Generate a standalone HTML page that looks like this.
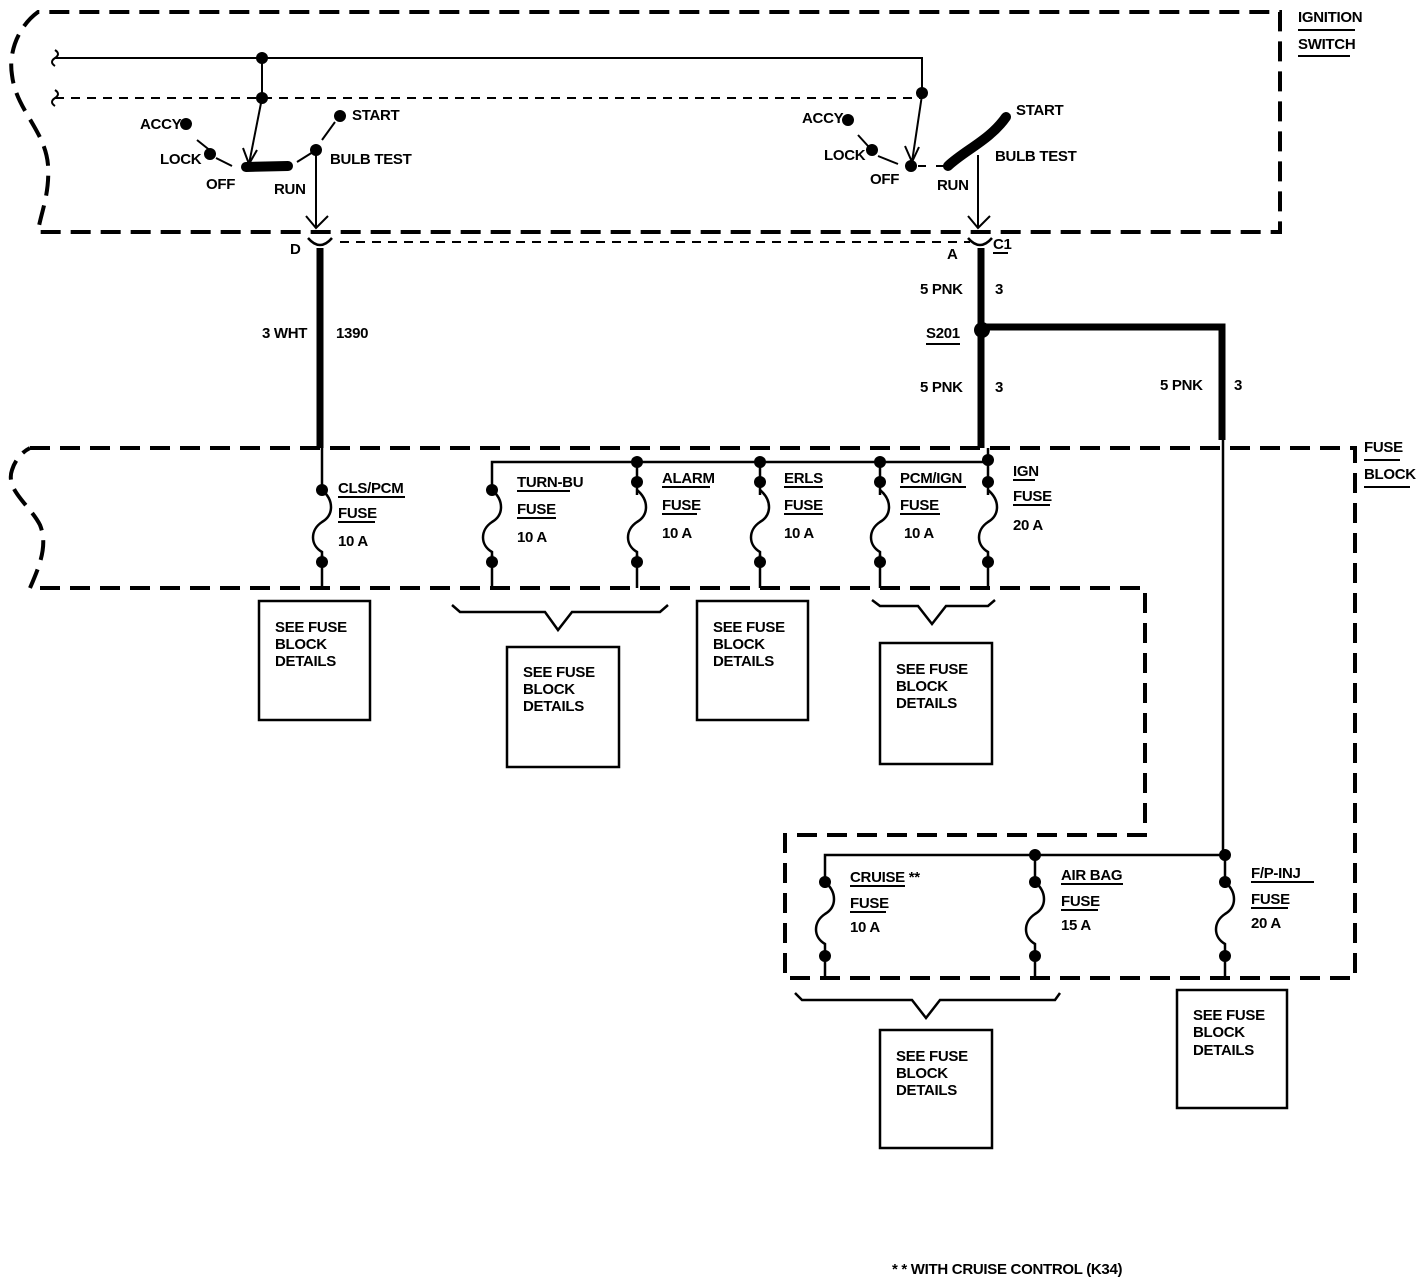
<!DOCTYPE html>
<html><head><meta charset="utf-8"><style>
html,body{margin:0;padding:0;background:#fff}
svg{display:block}
text{font-family:"Liberation Sans",sans-serif;font-size:15px;font-weight:bold;fill:#000;letter-spacing:-0.3px}
</style></head><body>
<svg width="1424" height="1284" viewBox="0 0 1424 1284" xmlns="http://www.w3.org/2000/svg">
<g fill="none" stroke="#000">
<!-- ignition switch box -->
<path d="M38,12 C20,25 8,50 12,75 C16,110 45,130 48,165 C50,195 40,215 38,232 L1280,232 L1280,12 Z" stroke-width="4" stroke-dasharray="20,10"/>
<!-- fuse block box -->
<path d="M30,448 L1355,448 L1355,978 L785,978 L785,835 L1145,835 L1145,588 L30,588 C40,565 48,545 40,525 C30,505 5,490 12,470 C15,460 22,452 30,448" stroke-width="4" stroke-dasharray="20,10"/>
<!-- top wires -->
<path d="M55,58 L922,58 L922,95" stroke-width="2"/>
<path d="M55,98 L922,98" stroke-width="2" stroke-dasharray="9,7"/>
<path d="M55,50 q6,4 0,8 q-6,4 0,8" stroke-width="2"/>
<path d="M55,90 q6,4 0,8 q-6,4 0,8" stroke-width="2"/>
<path d="M262,58 L262,98" stroke-width="2"/>
<!-- left switch -->
<path d="M262,98 L249,164" stroke-width="2"/>
<path d="M243,148 L249,164 L257,150" stroke-width="2"/>
<path d="M246,167 L288,166" stroke-width="10" stroke-linecap="round"/>
<path d="M197,140 L212,152 M216,158 L232,166" stroke-width="2"/>
<path d="M297,162 L313,152 M322,140 L335,122" stroke-width="2"/>
<path d="M316,150 L316,228" stroke-width="2"/>
<path d="M306,216 L316,228 L328,216" stroke-width="2"/>
<path d="M308,238 Q320,252 332,238" stroke-width="2.5"/>
<path d="M320,248 L320,448" stroke-width="7"/>
<path d="M340,242 L970,242" stroke-width="2" stroke-dasharray="9,7"/>
<!-- right switch -->
<path d="M922,95 L912,162" stroke-width="2"/>
<path d="M905,146 L912,162 L919,147" stroke-width="2"/>
<path d="M858,135 L868,146 M878,156 L898,164" stroke-width="2"/>
<path d="M918,166 L926,166 M936,166 L946,166" stroke-width="2"/>
<path d="M948,166 C965,150 990,140 1006,117" stroke-width="10" stroke-linecap="round"/>
<path d="M978,155 L978,228" stroke-width="2"/>
<path d="M968,216 L978,228 L990,216" stroke-width="2"/>
<path d="M968,238 Q980,252 992,238" stroke-width="2.5"/>
<path d="M981,248 L981,448" stroke-width="7"/>
<path d="M982,327 L1222,327 L1222,440" stroke-width="7"/>
<path d="M1223,440 L1223,855" stroke-width="2.5"/>
<!-- fuse bus top -->
<path d="M492,588 L492,462 L988,462" stroke-width="2.5"/>
<path d="M322,448 L322,588 M637,462 L637,588 M760,462 L760,588 M880,462 L880,588 M988,448 L988,588" stroke-width="2.5"/>
<path d="M825,978 L825,855 L1225,855 M1035,855 L1035,978 M1225,855 L1225,978" stroke-width="2.5"/>
</g>
<g fill="none" stroke="#fff" stroke-width="5">
<path d="M322,495 V555 M492,495 V555 M637,495 V555 M760,495 V555 M880,495 V555 M988,495 V555 M825,888 V950 M1035,888 V950 M1225,888 V950"/>
</g>
<g fill="none" stroke="#000" stroke-width="2.5">
<path id="fz" d="M322,490 C334,500 334,515 322,522 C310,530 310,545 322,552 L322,562"/>
<use href="#fz" x="170"/><use href="#fz" x="315"/><use href="#fz" x="438"/><use href="#fz" x="558"/><use href="#fz" x="666"/>
<use href="#fz" x="503" y="392"/><use href="#fz" x="713" y="392"/><use href="#fz" x="903" y="392"/>
</g>
<g fill="#000">
<circle cx="262" cy="58" r="6"/><circle cx="262" cy="98" r="6"/><circle cx="922" cy="93" r="6"/>
<circle cx="186" cy="124" r="6"/><circle cx="210" cy="154" r="6"/><circle cx="316" cy="150" r="6"/><circle cx="340" cy="116" r="6"/>
<circle cx="848" cy="120" r="6"/><circle cx="872" cy="150" r="6"/><circle cx="911" cy="166" r="6"/>
<circle cx="982" cy="330" r="8"/>
<circle cx="322" cy="490" r="6"/><circle cx="322" cy="562" r="6"/>
<circle cx="492" cy="490" r="6"/><circle cx="492" cy="562" r="6"/>
<circle cx="637" cy="462" r="6"/><circle cx="637" cy="482" r="6"/><circle cx="637" cy="562" r="6"/>
<circle cx="760" cy="462" r="6"/><circle cx="760" cy="482" r="6"/><circle cx="760" cy="562" r="6"/>
<circle cx="880" cy="462" r="6"/><circle cx="880" cy="482" r="6"/><circle cx="880" cy="562" r="6"/>
<circle cx="988" cy="460" r="6"/><circle cx="988" cy="482" r="6"/><circle cx="988" cy="562" r="6"/>
<circle cx="825" cy="882" r="6"/><circle cx="825" cy="956" r="6"/>
<circle cx="1035" cy="855" r="6"/><circle cx="1035" cy="882" r="6"/><circle cx="1035" cy="956" r="6"/>
<circle cx="1225" cy="855" r="6"/><circle cx="1225" cy="882" r="6"/><circle cx="1225" cy="956" r="6"/>
</g>
<g fill="none" stroke="#000" stroke-width="2.5">
<rect x="259" y="601" width="111" height="119"/>
<rect x="507" y="647" width="112" height="120"/>
<rect x="697" y="601" width="111" height="119"/>
<rect x="880" y="643" width="112" height="121"/>
<rect x="880" y="1030" width="112" height="118"/>
<rect x="1177" y="990" width="110" height="118"/>
<path d="M452,605 L460,612 L545,612 L558,630 L572,612 L660,612 L668,605"/>
<path d="M872,600 L880,606 L918,606 L932,624 L946,606 L988,606 L995,600"/>
<path d="M795,993 L802,1000 L912,1000 L926,1018 L940,1000 L1055,1000 L1060,993"/>
</g>
<g stroke="#000" stroke-width="2">
<path d="M1298,30 H1355 M1298,56 H1350 M1364,460 H1400 M1364,487 H1410 M926,344 H960 M993,253 H1008"/>
<path d="M338,497 H405 M338,522 H375 M517,491 H570 M517,518 H556 M662,487 H710 M662,514 H697 M784,487 H823 M784,514 H823 M900,487 H966 M900,514 H940 M1013,480 H1035 M1013,505 H1050"/>
<path d="M850,886 H905 M850,912 H886 M1061,884 H1123 M1061,910 H1098 M1251,882 H1314 M1251,908 H1288"/>
</g>
<g>
<text x="1298" y="22" font-size="13">IGNITION</text><text x="1298" y="49" font-size="13">SWITCH</text>
<text x="1364" y="452" font-size="14">FUSE</text><text x="1364" y="479" font-size="14">BLOCK</text>
<text x="140" y="129" font-size="14">ACCY</text><text x="160" y="164" font-size="14">LOCK</text><text x="206" y="189" font-size="14">OFF</text><text x="274" y="194" font-size="14">RUN</text>
<text x="352" y="120" font-size="14">START</text><text x="330" y="164" font-size="14">BULB TEST</text>
<text x="802" y="123" font-size="14">ACCY</text><text x="824" y="160" font-size="14">LOCK</text><text x="870" y="184" font-size="14">OFF</text><text x="937" y="190" font-size="14">RUN</text>
<text x="1016" y="115" font-size="14">START</text><text x="995" y="161" font-size="14">BULB TEST</text>
<text x="290" y="254" font-size="14">D</text><text x="947" y="259" font-size="14">A</text><text x="993" y="249" font-size="14">C1</text>
<text x="262" y="338" font-size="14">3 WHT</text><text x="336" y="338" font-size="14">1390</text>
<text x="920" y="294" font-size="14">5 PNK</text><text x="995" y="294" font-size="14">3</text>
<text x="926" y="338" font-size="14">S201</text>
<text x="920" y="392" font-size="14">5 PNK</text><text x="995" y="392" font-size="14">3</text>
<text x="1160" y="390" font-size="14">5 PNK</text><text x="1234" y="390" font-size="14">3</text>
<text x="338" y="493" font-size="14">CLS/PCM</text><text x="338" y="518" font-size="14">FUSE</text><text x="338" y="546" font-size="14">10 A</text>
<text x="517" y="487" font-size="14">TURN-BU</text><text x="517" y="514" font-size="14">FUSE</text><text x="517" y="542" font-size="14">10 A</text>
<text x="662" y="483" font-size="14">ALARM</text><text x="662" y="510" font-size="14">FUSE</text><text x="662" y="538" font-size="14">10 A</text>
<text x="784" y="483" font-size="14">ERLS</text><text x="784" y="510" font-size="14">FUSE</text><text x="784" y="538" font-size="14">10 A</text>
<text x="900" y="483" font-size="14">PCM/IGN</text><text x="900" y="510" font-size="14">FUSE</text><text x="904" y="538" font-size="14">10 A</text>
<text x="1013" y="476" font-size="14">IGN</text><text x="1013" y="501" font-size="14">FUSE</text><text x="1013" y="530" font-size="14">20 A</text>
<text x="850" y="882" font-size="14">CRUISE **</text><text x="850" y="908" font-size="14">FUSE</text><text x="850" y="932" font-size="14">10 A</text>
<text x="1061" y="880" font-size="14">AIR BAG</text><text x="1061" y="906" font-size="14">FUSE</text><text x="1061" y="930" font-size="14">15 A</text>
<text x="1251" y="878" font-size="14">F/P-INJ</text><text x="1251" y="904" font-size="14">FUSE</text><text x="1251" y="928" font-size="14">20 A</text>
</g>
<g font-size="14">
<text x="275" y="632">SEE FUSE</text><text x="275" y="649">BLOCK</text><text x="275" y="666">DETAILS</text>
<text x="523" y="677">SEE FUSE</text><text x="523" y="694">BLOCK</text><text x="523" y="711">DETAILS</text>
<text x="713" y="632">SEE FUSE</text><text x="713" y="649">BLOCK</text><text x="713" y="666">DETAILS</text>
<text x="896" y="674">SEE FUSE</text><text x="896" y="691">BLOCK</text><text x="896" y="708">DETAILS</text>
<text x="896" y="1061">SEE FUSE</text><text x="896" y="1078">BLOCK</text><text x="896" y="1095">DETAILS</text>
<text x="1193" y="1020">SEE FUSE</text><text x="1193" y="1037">BLOCK</text><text x="1193" y="1055">DETAILS</text>
<text x="892" y="1274">* * WITH CRUISE CONTROL (K34)</text>
</g>
</svg>
</body></html>
